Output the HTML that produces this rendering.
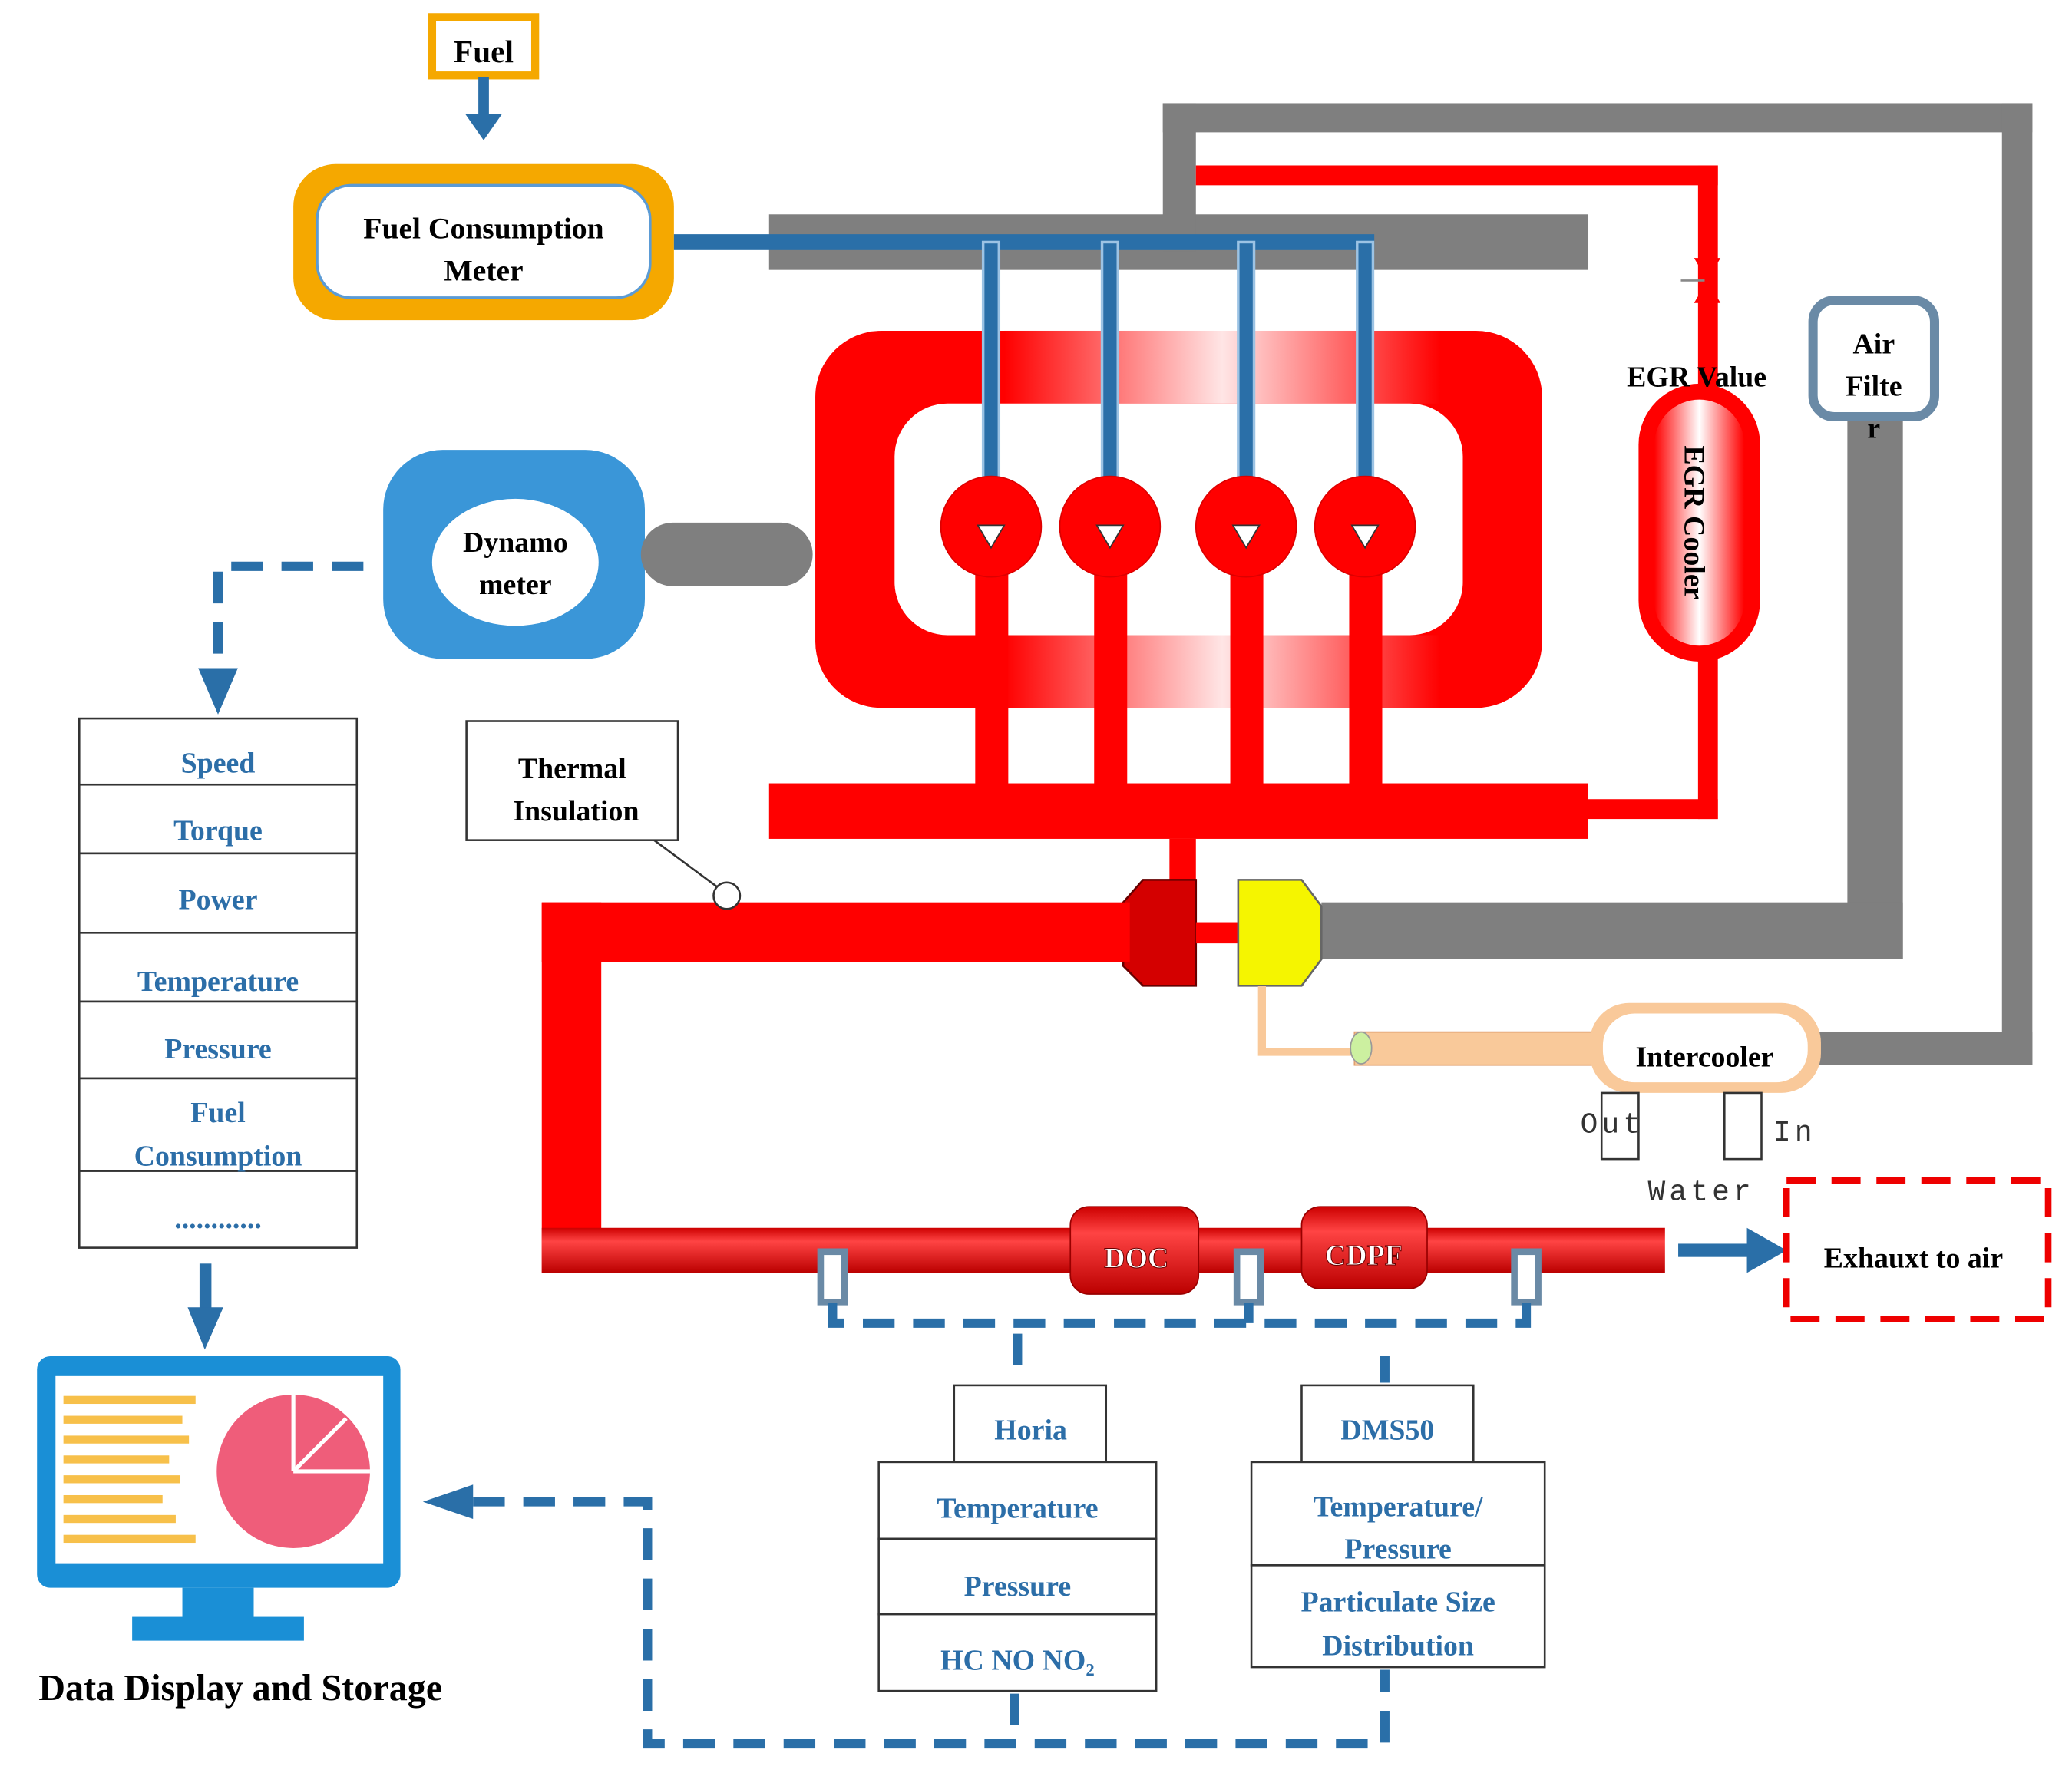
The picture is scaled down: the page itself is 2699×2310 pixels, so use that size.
<!DOCTYPE html>
<html><head><meta charset="utf-8"><style>html,body{margin:0;padding:0;background:#fff}svg{display:block}</style></head><body>
<svg width="2699" height="2310" viewBox="0 0 1568 1340" preserveAspectRatio="none" xmlns="http://www.w3.org/2000/svg" font-family="Liberation Serif, serif" font-weight="bold">
<defs>
<linearGradient id="gh" x1="0" x2="1" y1="0" y2="0"><stop offset="0" stop-color="#f00"/><stop offset="0.5" stop-color="#fff"/><stop offset="1" stop-color="#f00"/></linearGradient>
<linearGradient id="gv" x1="0" x2="0" y1="0" y2="1"><stop offset="0" stop-color="#c00"/><stop offset="0.3" stop-color="#f44"/><stop offset="1" stop-color="#b00"/></linearGradient>
<linearGradient id="gc" x1="0" x2="1"><stop offset="0" stop-color="#f00"/><stop offset="0.5" stop-color="#fff"/><stop offset="1" stop-color="#f00"/></linearGradient>
</defs>
<rect width="1568" height="1340" fill="#fff"/>
<!-- Fuel -->
<rect x="327" y="13" width="78" height="44" fill="#fff" stroke="#f5a800" stroke-width="6"/>
<text x="366" y="47" font-size="24" text-anchor="middle">Fuel</text>
<rect x="362" y="58" width="8" height="30" fill="#2a6fa8"/><polygon points="352,86 380,86 366,106" fill="#2a6fa8"/>
<!-- Fuel consumption meter -->
<rect x="222" y="124" width="288" height="118" rx="32" fill="#f5a800"/>
<rect x="240" y="140" width="252" height="85" rx="26" fill="#fff" stroke="#5b9bd5" stroke-width="2"/>
<text x="366" y="180" font-size="23" text-anchor="middle">Fuel  Consumption</text>
<text x="366" y="212" font-size="23" text-anchor="middle">Meter</text>
<!-- gray loops -->
<rect x="582" y="162" width="620" height="42" fill="#7f7f7f"/>
<rect x="880" y="78" width="25" height="112" fill="#7f7f7f"/>
<rect x="880" y="78" width="658" height="22" fill="#7f7f7f"/>
<rect x="1515" y="78" width="23" height="727" fill="#7f7f7f"/>
<rect x="1375" y="780" width="163" height="25" fill="#7f7f7f"/>
<rect x="1398" y="315" width="42" height="410" fill="#7f7f7f"/>
<rect x="1000" y="682" width="440" height="43" fill="#7f7f7f"/>
<!-- red EGR line -->
<rect x="905" y="125" width="395" height="15" fill="#f00"/>
<rect x="1285" y="125" width="15" height="170" fill="#f00"/>
<polygon points="1282,195 1302,195 1292,212" fill="#f00"/><polygon points="1282,229 1302,229 1292,212" fill="#f00"/>
<line x1="1272" y1="212" x2="1290" y2="212" stroke="#888" stroke-width="1.5"/>
<!-- engine -->
<rect x="617" y="250" width="550" height="285" rx="50" fill="#f00"/>
<rect x="760" y="250" width="330" height="55" fill="url(#gh)" opacity="0.9"/>
<rect x="760" y="480" width="330" height="55" fill="url(#gh)" opacity="0.9"/>
<rect x="677" y="305" width="430" height="175" rx="40" fill="#fff"/>
<!-- red pipes -->
<g fill="#f00">
<rect x="738" y="420" width="25" height="175"/><rect x="828" y="420" width="25" height="175"/><rect x="931" y="420" width="25" height="175"/><rect x="1021" y="420" width="25" height="175"/>
</g>
<rect x="582" y="592" width="620" height="42" fill="#f00"/>
<rect x="1202" y="604" width="98" height="15" fill="#f00"/>
<rect x="1285" y="495" width="15" height="124" fill="#f00"/>
<!-- blue fuel lines -->
<rect x="510" y="177" width="530" height="12" fill="#2a6fa8"/>
<g fill="#2a6fa8" stroke="#9cc3e4" stroke-width="2">
<rect x="744" y="183" width="12" height="210"/><rect x="834" y="183" width="12" height="210"/><rect x="937" y="183" width="12" height="210"/><rect x="1027" y="183" width="12" height="210"/>
</g>
<g fill="#f00" stroke="#d00" stroke-width="1">
<circle cx="750" cy="398" r="38"/><circle cx="840" cy="398" r="38"/><circle cx="943" cy="398" r="38"/><circle cx="1033" cy="398" r="38"/>
</g>
<g fill="#fff" stroke="#333" stroke-width="1">
<polygon points="740,397 760,397 750,414"/><polygon points="830,397 850,397 840,414"/><polygon points="933,397 953,397 943,414"/><polygon points="1023,397 1043,397 1033,414"/>
</g>
<!-- EGR cooler -->
<rect x="1240" y="290" width="92" height="210" rx="46" fill="#f00"/>
<rect x="1252" y="302" width="68" height="186" rx="34" fill="url(#gc)"/>
<text transform="translate(1275,395) rotate(90)" font-size="22" text-anchor="middle">EGR Cooler</text>
<text x="1284" y="292" font-size="22" text-anchor="middle">EGR Value</text>
<!-- Air filter -->
<rect x="1372" y="227" width="92" height="88" rx="16" fill="#fff" stroke="#6a8aa6" stroke-width="7"/>
<text x="1418" y="267" font-size="22" text-anchor="middle">Air</text>
<text x="1418" y="299" font-size="22" text-anchor="middle">Filte</text>
<text x="1418" y="331" font-size="22" text-anchor="middle">r</text>
<!-- turbo -->
<rect x="885" y="634" width="20" height="35" fill="#f00"/>
<polygon points="865,665 905,665 905,745 865,745 850,730 850,682" fill="#d40000" stroke="#600" stroke-width="1.5"/>
<rect x="905" y="697" width="32" height="16" fill="#f00"/>
<polygon points="937,665 985,665 1000,685 1000,725 985,745 937,745" fill="#f5f500" stroke="#666" stroke-width="1.5"/>
<!-- intercooler line -->
<polyline points="955,745 955,795 1025,795" fill="none" stroke="#f9c99a" stroke-width="6"/>
<rect x="1025" y="780" width="180" height="25" fill="#f9c99a" stroke="#e0a070" stroke-width="1"/>
<ellipse cx="1030" cy="792" rx="8" ry="12" fill="#ccf0a0" stroke="#999"/>
<rect x="1203" y="758" width="175" height="68" rx="30" fill="#f9c99a"/>
<rect x="1213" y="766" width="155" height="52" rx="24" fill="#fff"/>
<text x="1290" y="806" font-size="22" text-anchor="middle">Intercooler</text>
<rect x="1212" y="826" width="28" height="50" fill="#fff" stroke="#333" stroke-width="1.5"/>
<rect x="1305" y="826" width="28" height="50" fill="#fff" stroke="#333" stroke-width="1.5"/>
<g font-family="Liberation Mono, monospace" font-weight="normal" font-size="22" fill="#333">
<text x="1196" y="856" letter-spacing="3">Out</text><text x="1342" y="862" letter-spacing="3">In</text><text x="1247" y="907" letter-spacing="3">Water</text>
</g>
<!-- exhaust pipe -->
<rect x="410" y="682" width="445" height="45" fill="#f00"/>
<rect x="410" y="682" width="45" height="280" fill="#f00"/>
<rect x="410" y="928" width="850" height="34" fill="url(#gv)"/>
<rect x="810" y="912" width="97" height="66" rx="14" fill="url(#gv)" stroke="#900" stroke-width="1"/>
<rect x="985" y="912" width="95" height="62" rx="14" fill="url(#gv)" stroke="#900" stroke-width="1"/>
<text x="860" y="958" font-size="22" text-anchor="middle" fill="#fff" stroke="#600" stroke-width="0.6">DOC</text>
<text x="1032" y="956" font-size="22" text-anchor="middle" fill="#fff" stroke="#600" stroke-width="0.6">CDPF</text>
<g fill="#fff" stroke="#6a8aa6" stroke-width="5">
<rect x="621" y="946" width="18" height="38"/><rect x="936" y="946" width="18" height="38"/><rect x="1146" y="946" width="18" height="38"/>
</g>
<!-- thermal insulation -->
<line x1="495" y1="635" x2="545" y2="672" stroke="#333" stroke-width="1.5"/>
<circle cx="550" cy="677" r="10" fill="#fff" stroke="#333" stroke-width="1.5"/>
<rect x="353" y="545" width="160" height="90" fill="#fff" stroke="#333" stroke-width="1.5"/>
<text x="433" y="588" font-size="22" text-anchor="middle">Thermal</text>
<text x="436" y="620" font-size="22" text-anchor="middle">Insulation</text>
<!-- exhaust arrow -->
<rect x="1270" y="940" width="55" height="10" fill="#2a6fa8"/><polygon points="1322,928 1352,945 1322,962" fill="#2a6fa8"/>
<rect x="1352" y="892" width="198" height="105" fill="#fff" stroke="#e00" stroke-width="5" stroke-dasharray="22,12"/>
<text x="1448" y="958" font-size="22" text-anchor="middle">Exhauxt to air</text>
<!-- dashed blue lines -->
<g fill="none" stroke="#2a6fa8" stroke-width="7" stroke-dasharray="24,14">
<polyline points="630,985 630,1000 1155,1000 1155,985"/>
<line x1="945" y1="985" x2="945" y2="1000"/>
<line x1="770" y1="1008" x2="770" y2="1045"/><line x1="1048" y1="1025" x2="1048" y2="1045"/>
<polyline points="275,428 165,428 165,505"/>
<polyline points="358,1135 490,1135 490,1318 1048,1318 1048,1262"/>
<line x1="768" y1="1280" x2="768" y2="1318"/>
</g>
<polygon points="150,505 180,505 165,540" fill="#2a6fa8"/>
<polygon points="320,1135 358,1122 358,1148" fill="#2a6fa8"/>
<!-- dynamometer -->
<rect x="290" y="340" width="198" height="158" rx="45" fill="#3a96d8"/>
<ellipse cx="390" cy="425" rx="63" ry="48" fill="#fff"/>
<text x="390" y="417" font-size="22" text-anchor="middle">Dynamo</text>
<text x="390" y="449" font-size="22" text-anchor="middle">meter</text>
<rect x="485" y="395" width="130" height="48" rx="24" fill="#7f7f7f"/>
<!-- left table -->
<g fill="#fff" stroke="#333" stroke-width="1.5">
<rect x="60" y="543" width="210" height="50"/><rect x="60" y="593" width="210" height="52"/><rect x="60" y="645" width="210" height="60"/><rect x="60" y="705" width="210" height="52"/><rect x="60" y="757" width="210" height="58"/><rect x="60" y="815" width="210" height="70"/><rect x="60" y="885" width="210" height="58"/>
</g>
<g font-size="22" fill="#2c6ea8" text-anchor="middle">
<text x="165" y="584">Speed</text><text x="165" y="635">Torque</text><text x="165" y="687">Power</text><text x="165" y="749">Temperature</text><text x="165" y="800">Pressure</text><text x="165" y="848">Fuel</text><text x="165" y="881">Consumption</text><text x="165" y="928">............</text>
</g>
<rect x="151" y="955" width="9" height="35" fill="#2a6fa8"/><polygon points="142,988 169,988 155,1020" fill="#2a6fa8"/>
<!-- monitor -->
<rect x="28" y="1025" width="275" height="175" rx="10" fill="#1a8fd6"/>
<rect x="42" y="1040" width="248" height="142" fill="#fff"/>
<g fill="#f7c04a"><rect x="48" y="1055" width="100" height="6"/><rect x="48" y="1070" width="90" height="6"/><rect x="48" y="1085" width="95" height="6"/><rect x="48" y="1100" width="80" height="6"/><rect x="48" y="1115" width="88" height="6"/><rect x="48" y="1130" width="75" height="6"/><rect x="48" y="1145" width="85" height="6"/><rect x="48" y="1160" width="100" height="6"/></g>
<circle cx="222" cy="1112" r="58" fill="#ef5d7a"/>
<path d="M222,1112 L222,1054 M222,1112 L280,1112 M222,1112 L262,1072" stroke="#fff" stroke-width="3"/>
<rect x="138" y="1200" width="54" height="24" fill="#1a8fd6"/><rect x="100" y="1222" width="130" height="18" fill="#1a8fd6"/>
<text x="182" y="1285" font-size="28" text-anchor="middle">Data Display and Storage</text>
<!-- Horia -->
<g fill="#fff" stroke="#333" stroke-width="1.5">
<rect x="722" y="1047" width="115" height="58"/><rect x="665" y="1105" width="210" height="58"/><rect x="665" y="1163" width="210" height="57"/><rect x="665" y="1220" width="210" height="58"/>
<rect x="985" y="1047" width="130" height="58"/><rect x="947" y="1105" width="222" height="78"/><rect x="947" y="1183" width="222" height="77"/>
</g>
<g font-size="22" fill="#2c6ea8" text-anchor="middle">
<text x="780" y="1088">Horia</text><text x="770" y="1147">Temperature</text><text x="770" y="1206">Pressure</text><text x="770" y="1262">HC  NO   NO₂</text>
<text x="1050" y="1088">DMS50</text><text x="1058" y="1146">Temperature/</text><text x="1058" y="1178">Pressure</text><text x="1058" y="1218">Particulate Size</text><text x="1058" y="1251">Distribution</text>
</g>
</svg>
</body></html>
